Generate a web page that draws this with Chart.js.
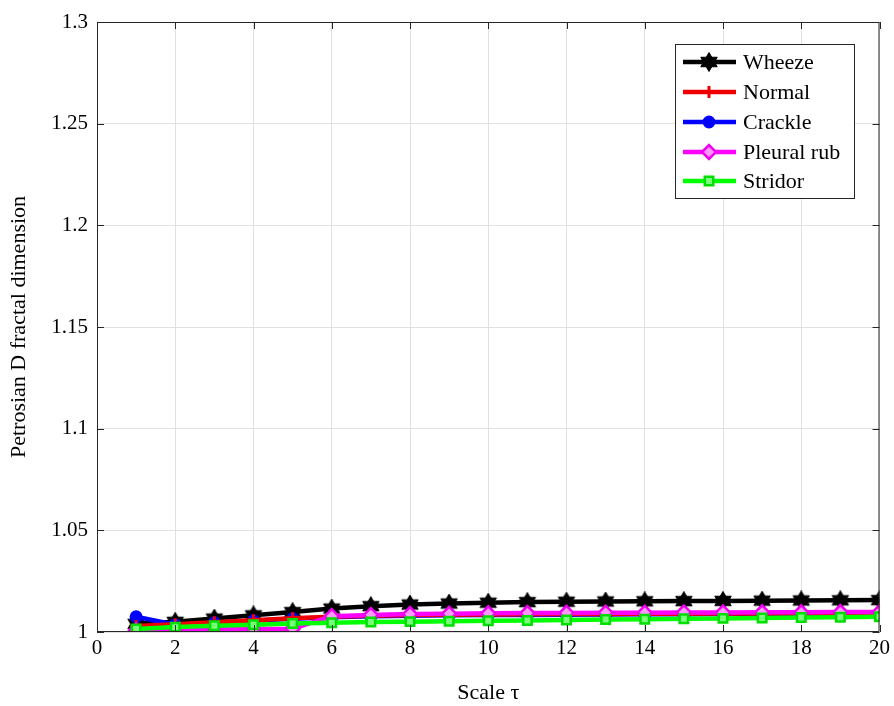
<!DOCTYPE html>
<html>
<head>
<meta charset="utf-8">
<script src="https://cdn.jsdelivr.net/npm/chart.js@4/dist/chart.umd.min.js"></script>
<style>
  html, body { margin: 0; padding: 0; background: #fff; }
  #wrap { width: 894px; height: 706px; }
</style>
</head>
<body>
<div id="wrap"><canvas id="c" width="894" height="706"></canvas></div>
<script>
// Scale values (tau) along the x axis
const scaleTau = [1, 2, 3, 4, 5, 6, 7, 8, 9, 10, 11, 12, 13, 14, 15, 16, 17, 18, 19, 20];

// Petrosian D fractal dimension per sound class
const wheeze  = [1.0040, 1.0050, 1.0066, 1.0082, 1.0098, 1.0115, 1.0127, 1.0135, 1.0140, 1.0144, 1.0147, 1.0149, 1.0150, 1.0151, 1.0152, 1.0153, 1.0154, 1.0155, 1.0156, 1.0157];
const normal  = [1.0030, 1.0038, 1.0048, 1.0058, 1.0068, 1.0075, 1.0080, 1.0083, 1.0085, 1.0086, 1.0087, 1.0088, 1.0089, 1.0090, 1.0090, 1.0091, 1.0091, 1.0092, 1.0092, 1.0093];
const crackle = [1.0075, 1.0036, 1.0045, 1.0055, 1.0065, 1.0072, 1.0077, 1.0080, 1.0082, 1.0083, 1.0084, 1.0085, 1.0086, 1.0087, 1.0087, 1.0088, 1.0088, 1.0089, 1.0089, 1.0090];
const pleural = [1.0008, 1.0012, 1.0014, 1.0015, 1.0016, 1.0078, 1.0084, 1.0088, 1.0090, 1.0092, 1.0093, 1.0094, 1.0095, 1.0095, 1.0096, 1.0096, 1.0097, 1.0097, 1.0098, 1.0098];
const stridor = [1.0015, 1.0024, 1.0031, 1.0036, 1.0042, 1.0046, 1.0049, 1.0051, 1.0053, 1.0055, 1.0057, 1.0059, 1.0061, 1.0063, 1.0065, 1.0067, 1.0069, 1.0071, 1.0073, 1.0075];

const seriesNames = ['Wheeze', 'Normal', 'Crackle', 'Pleural rub', 'Stridor'];
const xTicks = [0, 2, 4, 6, 8, 10, 12, 14, 16, 18, 20];
const yTicks = [1, 1.05, 1.1, 1.15, 1.2, 1.25, 1.3];
const yTitle = 'Petrosian D fractal dimension';

const SERIF = '"Liberation Serif", "Times New Roman", serif';

// Six-pointed star marker for the Wheeze series
function hexagram(size, color) {
  const cv = document.createElement('canvas');
  cv.width = size; cv.height = size;
  const g = cv.getContext('2d');
  const c = size / 2, r = size / 2 - 0.5;
  g.fillStyle = color;
  g.strokeStyle = color;
  g.lineWidth = 1;
  const tri = (rot) => {
    g.beginPath();
    for (let k = 0; k < 3; k++) {
      const a = rot + k * 2 * Math.PI / 3;
      const px = c + r * Math.sin(a), py = c - r * Math.cos(a);
      k === 0 ? g.moveTo(px, py) : g.lineTo(px, py);
    }
    g.closePath(); g.fill(); g.stroke();
  };
  tri(0); tri(Math.PI);
  return cv;
}
const starImg = hexagram(20, '#000000');

function pts(ys) { return scaleTau.map((x, i) => ({ x: x, y: ys[i] })); }

const datasets = [
  { label: seriesNames[0], data: pts(wheeze), borderColor: '#000000', backgroundColor: '#000000',
    pointStyle: starImg, borderWidth: 4.5, order: 4 },
  { label: seriesNames[1], data: pts(normal), borderColor: '#ee0000', backgroundColor: '#ee0000',
    pointStyle: 'cross', pointRadius: 6, pointBorderWidth: 3, borderWidth: 4.5, order: 2 },
  { label: seriesNames[2], data: pts(crackle), borderColor: '#0000ff', backgroundColor: '#0000ff',
    pointStyle: 'circle', pointRadius: 5.5, pointBorderWidth: 2, borderWidth: 4.5, order: 3 },
  { label: seriesNames[3], data: pts(pleural), borderColor: '#ff00ff', backgroundColor: '#ff99ff',
    pointBorderColor: '#ee00ee', pointStyle: 'rectRot', pointRadius: 7, pointBorderWidth: 2.5, borderWidth: 4.5, order: 1 },
  { label: seriesNames[4], data: pts(stridor), borderColor: '#00ff00', backgroundColor: '#77ff77',
    pointBorderColor: '#00dd00', pointStyle: 'rect', pointRadius: 6, pointBorderWidth: 2.5, borderWidth: 4.5, order: 0 }
];

// Box, inward tick marks, y-axis title and legend
const framePlugin = {
  id: 'frame',
  afterDraw(chart) {
    const { ctx, chartArea: a, scales: { x, y } } = chart;
    ctx.save();
    ctx.strokeStyle = '#262626';
    ctx.lineWidth = 1;
    ctx.beginPath();
    ctx.moveTo(a.left + 0.5, a.top + 0.5);
    ctx.lineTo(a.right - 0.5, a.top + 0.5);
    ctx.lineTo(a.right - 0.5, a.bottom - 0.5);
    ctx.lineTo(a.left + 0.5, a.bottom - 0.5);
    ctx.closePath();
    ctx.stroke();
    const tl = 7;
    ctx.beginPath();
    xTicks.forEach(v => {
      const px = Math.round(x.getPixelForValue(v)) + 0.5;
      ctx.moveTo(px, a.bottom); ctx.lineTo(px, a.bottom - tl);
      ctx.moveTo(px, a.top); ctx.lineTo(px, a.top + tl);
    });
    yTicks.forEach(v => {
      const py = Math.round(y.getPixelForValue(v)) + 0.5;
      ctx.moveTo(a.left, py); ctx.lineTo(a.left + tl, py);
      ctx.moveTo(a.right, py); ctx.lineTo(a.right - tl, py);
    });
    ctx.stroke();

    // y-axis title
    ctx.save();
    ctx.translate(19, (a.top + a.bottom) / 2);
    ctx.rotate(-Math.PI / 2);
    ctx.font = '22px ' + SERIF;
    ctx.fillStyle = '#000';
    ctx.textAlign = 'center';
    ctx.textBaseline = 'middle';
    ctx.fillText(yTitle, 0, 0);
    ctx.restore();

    // legend
    const lx = 675, ly = 44, lw = 179, lh = 154;
    ctx.fillStyle = '#ffffff';
    ctx.fillRect(lx, ly, lw, lh);
    ctx.strokeStyle = '#262626';
    ctx.lineWidth = 1;
    ctx.strokeRect(lx + 0.5, ly + 0.5, lw, lh);
    const rowY = [62, 92, 122, 152, 181];
    ctx.font = '22px ' + SERIF;
    ctx.textBaseline = 'middle';
    ctx.textAlign = 'left';
    chart.data.datasets.forEach((ds, i) => {
      const yy = rowY[i];
      ctx.strokeStyle = ds.borderColor;
      ctx.lineWidth = 4.5;
      ctx.beginPath();
      ctx.moveTo(683, yy); ctx.lineTo(736, yy);
      ctx.stroke();
      const el = chart.getDatasetMeta(i).data[0];
      const o = el.options;
      ctx.lineWidth = o.borderWidth;
      ctx.strokeStyle = o.borderColor;
      ctx.fillStyle = o.backgroundColor;
      Chart.helpers.drawPoint(ctx, {
        pointStyle: o.pointStyle, radius: o.radius, rotation: o.rotation, borderWidth: o.borderWidth
      }, 709, yy);
      ctx.fillStyle = '#000000';
      ctx.fillText(ds.label, 743, yy + 1);
    });
    ctx.restore();
  }
};

new Chart(document.getElementById('c'), {
  type: 'line',
  data: { datasets: datasets },
  plugins: [framePlugin],
  options: {
    responsive: false,
    animation: false,
    layout: { padding: { left: 0, top: 22, right: 14, bottom: 0 } },
    plugins: { legend: { display: false }, tooltip: { enabled: false } },
    elements: { line: { tension: 0 } },
    scales: {
      x: {
        type: 'linear', min: 0, max: 20,
        afterBuildTicks(s) { s.ticks = xTicks.map(v => ({ value: v })); },
        afterFit(s) { s.height = 74; },
        grid: { color: '#e0e0e0', drawTicks: false },
        border: { display: false },
        ticks: { color: '#000', padding: 4, font: { family: SERIF, size: 21 }, maxRotation: 0,
                 callback: v => String(v) },
        title: { display: true, text: 'Scale τ', color: '#000', padding: { top: 12, bottom: 0 },
                 font: { family: SERIF, size: 22 } }
      },
      y: {
        type: 'linear', min: 1, max: 1.3,
        afterBuildTicks(s) { s.ticks = yTicks.map(v => ({ value: v })); },
        afterFit(s) { s.width = 97; },
        grid: { color: '#e0e0e0', drawTicks: false },
        border: { display: false },
        ticks: { color: '#000', padding: 9, font: { family: SERIF, size: 21 },
                 callback: v => String(parseFloat(v.toFixed(2))) },
        title: { display: false }
      }
    }
  }
});
</script>
</body>
</html>
